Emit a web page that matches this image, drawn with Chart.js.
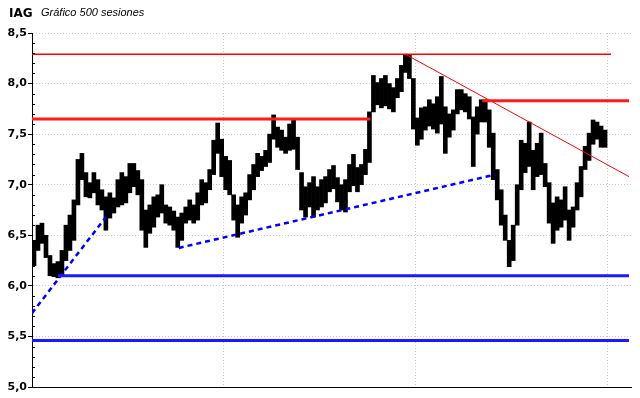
<!DOCTYPE html>
<html>
<head>
<meta charset="utf-8">
<title>IAG</title>
<script src="https://cdn.jsdelivr.net/npm/chart.js"></script>
<style>
  html, body { margin: 0; padding: 0; background: #fff; }
</style>
</head>
<body>
<canvas id="chart" width="640" height="398"></canvas>
<script>
  // high / low per group of sessions (left to right)
  const lows = [
    6.20, 6.35, 6.42, 6.28, 6.10, 6.09, 6.08, 6.10, 6.25, 6.35,
    6.45, 6.80, 7.05, 6.88, 6.87, 6.92, 6.80, 6.75, 6.55, 6.67,
    6.72, 6.78, 6.80, 6.82, 6.92, 6.98, 6.90, 6.55, 6.38, 6.52,
    6.58, 6.68, 6.72, 6.62, 6.60, 6.55, 6.38, 6.45, 6.62, 6.65,
    6.62, 6.65, 6.80, 6.82, 6.95, 7.10, 7.31, 7.08, 6.95, 6.90,
    6.65, 6.48, 6.62, 6.70, 6.85, 6.95, 7.08, 7.14, 7.18, 7.22,
    7.45, 7.37, 7.34, 7.31, 7.34, 7.35, 7.15, 6.75, 6.68, 6.78,
    6.68, 6.75, 6.78, 6.82, 6.93, 6.96, 6.83, 6.75, 6.73, 6.93,
    6.99, 6.93, 7.00, 7.10, 7.22, 7.72, 7.79, 7.76, 7.78, 7.75,
    7.72, 7.86, 7.92, 8.11, 8.05, 7.55, 7.39, 7.45, 7.54, 7.58,
    7.55, 7.51, 7.60, 7.31, 7.47, 7.54, 7.70, 7.74, 7.72, 7.65,
    7.18, 7.50, 7.62, 7.62, 7.37, 7.05, 6.85, 6.60, 6.45, 6.19,
    6.25, 6.60, 6.95, 7.12, 7.18, 6.95, 7.08, 7.10, 6.98, 6.62,
    6.42, 6.55, 6.58, 6.65, 6.45, 6.58, 6.75, 6.88, 7.15, 7.24,
    7.40, 7.45, 7.37, 7.37
  ];
  const highs = [
    6.45, 6.60, 6.62, 6.50, 6.30, 6.22, 6.24, 6.35, 6.60, 6.70,
    6.85, 7.25, 7.31, 7.12, 7.02, 7.12, 7.05, 6.95, 6.88, 6.92,
    6.87, 7.05, 7.12, 7.08, 7.21, 7.21, 7.14, 7.05, 6.75, 6.80,
    6.88, 6.90, 7.00, 6.80, 6.78, 6.74, 6.68, 6.72, 6.78, 6.85,
    6.80, 6.92, 7.05, 7.02, 7.15, 7.44, 7.61, 7.45, 7.28, 7.24,
    6.90, 6.80, 6.88, 6.92, 7.10, 7.20, 7.31, 7.28, 7.34, 7.50,
    7.69, 7.57, 7.54, 7.47, 7.60, 7.64, 7.47, 7.12, 6.98, 7.02,
    7.08, 6.98, 7.05, 7.08, 7.15, 7.19, 7.07, 7.00, 7.05, 7.20,
    7.30, 7.17, 7.20, 7.35, 7.72, 8.08, 8.01, 8.05, 8.08, 8.00,
    7.96, 8.05, 8.18, 8.28, 8.28, 8.05, 7.66, 7.76, 7.77, 7.84,
    7.80, 7.87, 8.07, 7.77, 7.70, 7.74, 7.94, 7.94, 7.90, 7.87,
    7.67, 7.77, 7.84, 7.84, 7.74, 7.51, 7.15, 6.95, 6.70, 6.45,
    6.60, 7.00, 7.44, 7.41, 7.62, 7.34, 7.41, 7.51, 7.21, 7.02,
    6.82, 6.88, 6.85, 6.98, 6.75, 6.78, 7.02, 7.18, 7.38, 7.51,
    7.64, 7.62, 7.58, 7.54
  ];

  // drawn lines: [position, price] end points
  const redTop = [[0, 8.29], [145, 8.29]];
  const redMid = [[0, 7.65], [84.75, 7.65]];
  const redUpper = [[112.75, 7.83], [149.5, 7.83]];
  const redTrend = [[93.5, 8.29], [149.5, 7.08]];
  const blueSupport = [[6.5, 6.10], [149.5, 6.10]];
  const blueLow = [[0, 5.46], [149.5, 5.46]];
  const blueTrend1 = [[0, 5.73], [18.5, 6.68]];
  const blueTrend2 = [[36.75, 6.375], [116, 7.10]];

  const yTicks = [5.0, 5.5, 6.0, 6.5, 7.0, 7.5, 8.0, 8.5];
  const xGrid = [0, 48, 96, 144];

  function pts(arr) {
    return arr.map(p => ({ x: p[0], y: p[1] }));
  }

  function level(arr, color, width, dash) {
    return {
      type: 'line',
      data: pts(arr),
      borderColor: color,
      borderWidth: width,
      borderDash: dash || [],
      pointRadius: 0,
      fill: false,
      tension: 0,
      order: 1
    };
  }

  const bars = lows.map((lo, i) => ({ x: i + 0.5, y: [lo, highs[i]] }));

  // title text + minor ticks on the price axis
  const extras = {
    id: 'extras',
    afterDraw(chart) {
      const ctx = chart.ctx;
      const y = chart.scales.y;
      ctx.save();
      ctx.fillStyle = '#000';
      ctx.textBaseline = 'alphabetic';
      ctx.font = 'bold 12px "DejaVu Sans"';
      ctx.fillText('IAG', 9, 17);
      ctx.font = 'italic 11px "Liberation Sans"';
      ctx.fillText('Gráfico 500 sesiones', 41, 16);
      ctx.strokeStyle = '#000';
      ctx.lineWidth = 1;
      ctx.beginPath();
      for (let k = 51; k < 85; k++) {
        if (k % 5 === 0) continue;
        const py = Math.round(y.getPixelForValue(k / 10)) + 0.5;
        ctx.moveTo(y.right, py);
        ctx.lineTo(y.right + 3, py);
      }
      ctx.stroke();
      ctx.restore();
    }
  };

  new Chart(document.getElementById('chart'), {
    type: 'bar',
    data: {
      datasets: [
        level(redTop, '#ff0000', 1.5),
        level(redMid, '#ff1a1a', 3),
        level(redUpper, '#ff1a1a', 3),
        level(redTrend, '#ff0000', 1),
        level(blueSupport, '#1a1aff', 3),
        level(blueLow, '#1a1aff', 3),
        level(blueTrend1, '#0000ff', 2.5, [5, 4]),
        level(blueTrend2, '#0000ff', 2.5, [5, 4]),
        {
          type: 'bar',
          data: bars,
          backgroundColor: '#000',
          borderWidth: 0,
          barThickness: 4,
          order: 5
        }
      ]
    },
    options: {
      responsive: false,
      animation: false,
      layout: { padding: { top: 33, left: 0, right: 9, bottom: 11 } },
      plugins: {
        legend: { display: false },
        tooltip: { enabled: false }
      },
      scales: {
        x: {
          type: 'linear',
          offset: false,
          min: 0,
          max: 150,
          afterBuildTicks: s => { s.ticks = xGrid.map(v => ({ value: v })); },
          afterFit: s => { s.height = 0; },
          ticks: { display: false },
          grid: { color: '#c8c8c8', drawTicks: false, offset: false },
          border: { color: '#000', width: 1, dash: [1, 2] }
        },
        y: {
          min: 5,
          max: 8.5,
          afterBuildTicks: s => { s.ticks = yTicks.map(v => ({ value: v })); },
          afterFit: s => { s.width = 32; },
          ticks: {
            padding: 1,
            color: '#000',
            font: { family: 'DejaVu Sans', size: 11, weight: 'bold' },
            callback: v => v.toFixed(1).replace('.', ',')
          },
          grid: { color: '#c8c8c8', tickColor: '#000', tickLength: 4 },
          border: { color: '#000', width: 1, dash: [1, 2] }
        }
      }
    },
    plugins: [extras]
  });
</script>
</body>
</html>
